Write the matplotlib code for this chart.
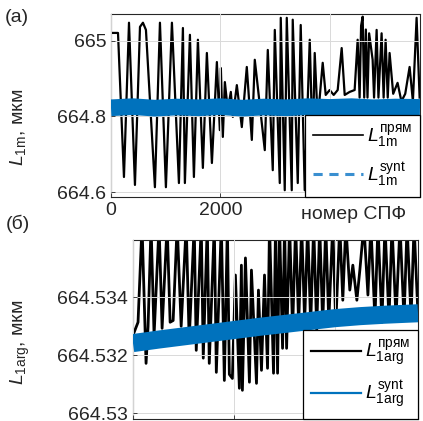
import matplotlib
matplotlib.use("Agg")
import matplotlib.pyplot as plt
from matplotlib.lines import Line2D

plt.rcParams['font.family'] = ['Liberation Sans', 'DejaVu Sans']
plt.rcParams['mathtext.fontset'] = 'custom'
plt.rcParams['mathtext.rm'] = 'Liberation Sans'
plt.rcParams['mathtext.it'] = 'Liberation Sans:italic'

# ---------------- data: panel (a) ----------------
a_x = [0, 128, 237, 329, 438, 530, 584, 639, 803, 895, 1004, 1114, 1242, 1315, 1351,
       1443, 1516, 1589, 1680, 1753, 1845, 1936, 1990, 2009, 2045, 2082, 2136, 2191,
       2228, 2301, 2392, 2483, 2575, 2629, 2812, 2867, 2958, 2995, 3086, 3104, 3177,
       3214, 3305, 3323, 3415, 3469, 3542, 3634, 3688, 3725, 3780, 3871, 3926, 3999,
       4072, 4145, 4218, 4273, 4364, 4455, 4510, 4546, 4573, 4602, 4630, 4660, 4690,
       4720, 4784, 4810, 4857, 4890, 4948, 4985, 5021, 5060, 5094, 5160, 5240, 5310,
       5380, 5460, 5520, 5588, 5643]
a_prjam = [665.021, 665.021, 664.640, 665.048, 664.619, 665.037, 665.048, 665.029,
           664.613, 665.048, 664.613, 665.048, 664.624, 665.034, 664.624, 665.016,
           664.640, 665.003, 664.664, 664.968, 664.677, 664.944, 664.764, 664.928,
           664.746, 664.891, 664.817, 664.865, 664.799, 664.883, 664.772, 664.931,
           664.738, 664.950, 664.711, 664.976, 664.658, 665.029, 664.624, 665.061,
           664.605, 665.061, 664.605, 665.056, 664.624, 665.042, 664.605, 665.003,
           664.711, 664.968, 664.790, 664.942, 664.857, 664.870, 664.857, 664.870,
           664.981, 664.857, 664.865, 664.870, 665.003, 664.850, 665.040, 665.064,
           664.850, 665.030, 664.850, 665.020, 664.950, 664.850, 665.029, 664.850,
           665.020, 664.850, 665.003, 664.850, 664.968, 664.860, 664.889, 664.840,
           664.860, 664.931, 664.840, 665.061, 664.850]

a_synt_x = [0, 400, 800, 1200, 1600, 2000, 2400, 2800, 3200, 3600, 4000, 4400, 4800,
            5200, 5650]
a_synt = [664.823, 664.826, 664.822, 664.825, 664.823, 664.826, 664.822, 664.825,
          664.823, 664.826, 664.824, 664.826, 664.823, 664.825, 664.824]

# ---------------- data: panel (б) ----------------
b_x = [0, 100, 179, 259, 299, 358, 418, 517, 577, 677, 736, 796, 876, 955, 1055,
       1114, 1214, 1254, 1353, 1393, 1473, 1512, 1612, 1652, 1751, 1811, 1871, 1910,
       1970, 2030, 2109, 2149, 2169, 2229, 2308, 2348, 2448, 2487, 2547, 2607, 2667,
       2706, 2786, 2826, 2866, 2905, 2965, 3005, 3045, 3104, 3164, 3224, 3284, 3343,
       3403, 3463, 3522, 3582, 3642, 3701, 3761, 3821, 3881, 3960, 4020, 4099, 4159,
       4219, 4298, 4358, 4438, 4497, 4577, 4657, 4716, 4796, 4856, 4935, 4995, 5075,
       5134, 5214, 5293, 5373, 5433, 5512, 5572, 5652]
b_prjam = [664.53269, 664.53314, 664.5365, 664.53172, 664.53300, 664.5365, 664.53269,
           664.5365, 664.53293, 664.5365, 664.53314, 664.53320, 664.5365, 664.53300,
           664.5365, 664.53252, 664.5365, 664.53217, 664.5365, 664.53190, 664.5365,
           664.53172, 664.5365, 664.53141, 664.5365, 664.53113, 664.5365, 664.53134,
           664.53120, 664.53477, 664.53086, 664.53511, 664.53079, 664.53536, 664.53107,
           664.53494, 664.53103, 664.53425, 664.53148, 664.53477, 664.53155, 664.5365,
           664.53138, 664.5365, 664.53138, 664.5365, 664.53224, 664.5365, 664.53224,
           664.5365, 664.53287, 664.5365, 664.53304, 664.5365, 664.53314, 664.5365,
           664.53304, 664.5365, 664.53287, 664.5365, 664.53304, 664.5365, 664.53314,
           664.5365, 664.53304, 664.5365, 664.53390, 664.5365, 664.53425, 664.53511,
           664.53390, 664.53494, 664.5365, 664.53408, 664.5365, 664.53321, 664.5365,
           664.53314, 664.5365, 664.53321, 664.5365, 664.53328, 664.5365, 664.53321,
           664.5365, 664.53328, 664.5365, 664.53328]

b_synt_x = [0, 500, 1000, 1500, 2000, 2500, 3000, 3500, 4000, 4500, 5000, 5650]
b_synt = [664.53242, 664.53254, 664.53265, 664.53276, 664.53287, 664.53298,
          664.53308, 664.53318, 664.53328, 664.53335, 664.53340, 664.53345]

xticks = [0, 2000, 4000]
a_yticks = [664.6, 664.8, 665.0]
a_yticklabels = ['664.6', '664.8', '665']
b_yticks = [664.530, 664.532, 664.534]
b_yticklabels = ['664.53', '664.532', '664.534']

BLUE = '#0072BD'
TXT = '#262626'
FS = 14

fig = plt.figure(figsize=(4.23, 4.21), dpi=100)
ax1 = fig.add_axes([0.2624, 0.532, 0.7305, 0.4347])
ax2 = fig.add_axes([0.3144, 0.0048, 0.6738, 0.4252])

for ax in (ax1, ax2):
    ax.set_xlim(0, 5650)
    ax.set_xticks(xticks)
    ax.tick_params(direction='in', length=3, colors=TXT, labelsize=FS, width=0.6)
    ax.grid(True, color='#d9d9d9', lw=0.7)
    ax.set_axisbelow(False)
    for s in ax.spines.values():
        s.set_color(TXT)
        s.set_linewidth(0.8)

# panel (a)
ax1.plot(a_x, a_prjam, color='black', lw=1.6, zorder=2)
ax1.plot(a_synt_x, a_synt, color=BLUE, lw=12, solid_capstyle='butt', zorder=3)
ax1.set_ylim(664.587, 665.071)
ax1.set_yticks(a_yticks)
ax1.set_yticklabels(a_yticklabels)
ax1.set_xticklabels(['0', '2000', ''])
ax1.text(0.786, -0.098, 'номер СПФ', transform=ax1.transAxes, ha='center',
         va='center', fontsize=FS, color=TXT)
ax1.set_ylabel(r'$L_{\rm 1m}$, мкм', fontsize=FS, color=TXT)
ax1.yaxis.set_label_coords(-0.27, 0.38)
h1 = [Line2D([], [], color='black', lw=1.2),
      Line2D([], [], color='#3a8fd0', lw=2.2, ls=(0, (3, 2.2)))]
leg1 = ax1.legend(h1, [r'$L^{\rm прям}_{\rm 1m}$', r'$L^{\rm synt}_{\rm 1m}$'],
                  loc='lower right', borderaxespad=0, fontsize=FS, fancybox=False,
                  edgecolor='black', framealpha=1, handlelength=2.6,
                  handletextpad=0.2, labelspacing=0.55, borderpad=0.4)
leg1.get_frame().set_linewidth(0.9)
fig.text(17 / 423, 1 - 17 / 421, '(a)', fontsize=FS, color=TXT, ha='center', va='center')

# panel (б)
ax2.plot(b_x, b_prjam, color='black', lw=2.0, zorder=2)
ax2.plot(b_synt_x, b_synt, color=BLUE, lw=13, solid_capstyle='butt', zorder=3)
ax2.set_ylim(664.5298, 664.53598)
ax2.set_yticks(b_yticks)
ax2.set_yticklabels(b_yticklabels)
ax2.set_xticklabels(['', '', ''])
ax2.set_ylabel(r'$L_{\rm 1arg}$, мкм', fontsize=FS, color=TXT)
ax2.yaxis.set_label_coords(-0.355, 0.43)
h2 = [Line2D([], [], color='black', lw=1.6),
      Line2D([], [], color=BLUE, lw=1.6)]
leg2 = ax2.legend(h2, [r'$L^{\rm прям}_{\rm 1arg}$', r'$L^{\rm synt}_{\rm 1arg}$'],
                  loc='lower right', borderaxespad=0, fontsize=FS, fancybox=False,
                  edgecolor='black', framealpha=1, handlelength=2.6,
                  handletextpad=0.2, labelspacing=0.55, borderpad=0.4)
leg2.get_frame().set_linewidth(0.9)
fig.text(18 / 423, 1 - 224 / 421, '(б)', fontsize=FS, color=TXT, ha='center', va='center')

fig.savefig('out.png', dpi=100)
